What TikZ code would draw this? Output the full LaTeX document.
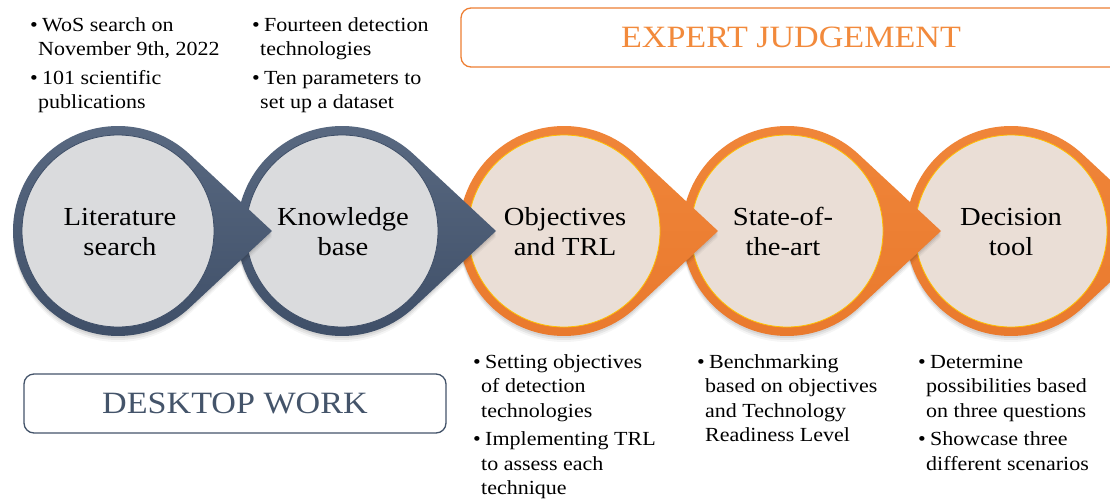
\documentclass[tikz,border=0pt]{standalone}
\usepackage{fontspec}
\setmainfont[FakeStretch=1.1]{Liberation Serif}
\usetikzlibrary{calc}
\definecolor{slateT}{HTML}{5A6A82}
\definecolor{slateB}{HTML}{3E4E67}
\definecolor{slate}{HTML}{44546A}
\definecolor{grayfill}{HTML}{DADBDD}
\definecolor{orT}{HTML}{F0863A}
\definecolor{orB}{HTML}{E9792D}
\definecolor{orline}{HTML}{EE7F33}
\definecolor{beige}{HTML}{EADED6}
\definecolor{goldline}{HTML}{FFC000}
\definecolor{ortext}{HTML}{F28A3C}
\newcommand\tearshape[3]{\path[#3] (#1+154,#2) -- (#1+71.6,#2+76.8) arc[start angle=47,end angle=313,radius=105pt] -- cycle;}
\newcommand\stagering[6]{%
  \tearshape{#1}{#2-2}{fill=black,opacity=0.07}
  \tearshape{#1}{#2-4}{fill=black,opacity=0.06}
  \tearshape{#1}{#2-6}{fill=black,opacity=0.04}
  \tearshape{#1}{#2}{top color=#3,bottom color=#4}
  \fill[#5] (#1,#2) circle[radius=96pt];
  \draw[#6,line width=0.8pt] (#1,#2) circle[radius=96pt];}
\newcommand\bul{\makebox[12pt][l]{•}}
\newcommand\cont{\hspace*{8pt}}
\tikzset{
  circtext/.style={anchor=north,align=center,inner sep=0pt,text=black,
    font=\fontsize{26}{30}\selectfont},
  bullettext/.style={anchor=north west,align=left,inner sep=0pt,text=black,
    font=\fontsize{20}{24.5}\selectfont},
  banner/.style={draw,rounded corners=10pt,line width=1.3pt,inner sep=0pt,
    minimum height=59pt,font=\fontsize{31}{36}\selectfont}
}
\begin{document}
\begin{tikzpicture}[x=1pt,y=1pt]
\useasboundingbox (0,0) rectangle (1110,-501);
\clip (0,0) rectangle (1110,-501);
\fill[white] (0,0) rectangle (1110,-501);
% banners
\node[banner,draw=orline,text=ortext,minimum width=660pt] (expert) at (791,-37.5) {EXPERT JUDGEMENT};
\node[banner,draw=slate,text=slate,minimum width=422pt] (desktop) at (235,-403.5) {DESKTOP WORK};
% stages, drawn right to left so each tip lies on the next circle
\stagering{1011}{-231}{orT}{orB}{beige}{goldline}
\stagering{787}{-231}{orT}{orB}{beige}{goldline}
\stagering{564}{-231}{orT}{orB}{beige}{goldline}
\stagering{342}{-231}{slateT}{slateB}{grayfill}{slateB}
\stagering{118}{-231}{slateT}{slateB}{grayfill}{slateB}
% circle labels
\node[circtext] (lit) at (120,-204) {\strut Literature\\search};
\node[circtext] (know) at (343,-204) {\strut Knowledge\\base};
\node[circtext] (obj) at (565,-204) {\strut Objectives\\and TRL};
\node[circtext] (sota) at (783,-204) {\strut State-of-\\the-art};
\node[circtext] (dec) at (1011,-204) {\strut Decision\\tool};
% bullet texts
\node[bullettext] (b1) at (30,-14) {\strut\bul WoS search on\\\cont November 9th, 2022\\[4pt]\bul 101 scientific\\\cont publications};
\node[bullettext] (b2) at (252,-14) {\strut\bul Fourteen detection\\\cont technologies\\[4pt]\bul Ten parameters to\\\cont set up a dataset};
\node[bullettext] (b3) at (473,-351) {\strut\bul Setting objectives\\\cont of detection\\\cont technologies\\[4pt]\bul Implementing TRL\\\cont to assess each\\\cont technique};
\node[bullettext] (b4) at (697,-351) {\strut\bul Benchmarking\\\cont based on objectives\\\cont and Technology\\\cont Readiness Level};
\node[bullettext] (b5) at (918,-351) {\strut\bul Determine\\\cont possibilities based\\\cont on three questions\\[4pt]\bul Showcase three\\\cont different scenarios};
\end{tikzpicture}
\end{document}
